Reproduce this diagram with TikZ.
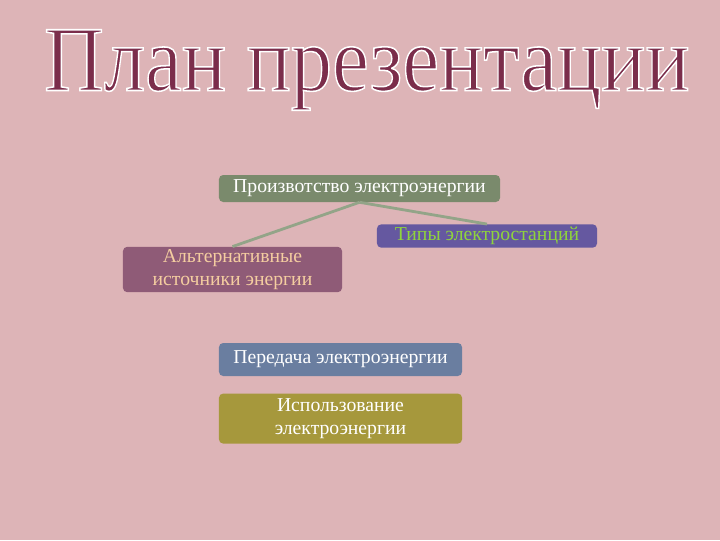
\documentclass[tikz,border=0pt]{standalone}
\usepackage{fontspec}
\setmainfont{Liberation Serif}
\usetikzlibrary{positioning}

\definecolor{bgpink}{HTML}{DDB4B7}
\definecolor{titlered}{HTML}{7B2D4B}
\definecolor{prodgreen}{HTML}{7A8A6C}
\definecolor{typesblue}{HTML}{6558A0}
\definecolor{typestext}{HTML}{8FD43C}
\definecolor{altmauve}{HTML}{8F5B77}
\definecolor{alttext}{HTML}{F4CDA0}
\definecolor{transblue}{HTML}{6A7EA0}
\definecolor{useolive}{HTML}{A6983C}
\definecolor{linkgreen}{HTML}{93A488}

% white outlined title text (fill, then stroke)
\newcommand{\outlinetext}[1]{%
    \special{pdf:literal direct 1 1 1 RG 1.1 w 2 Tr}#1\special{pdf:literal direct 0 Tr}}

\tikzset{
    box/.style={rounded corners=3pt, inner sep=2pt, align=center,
        font=\fontsize{14}{16}\selectfont},
    link/.style={line width=2pt, draw=linkgreen}
}

\begin{document}
\begin{tikzpicture}[x=0.025cm, y=-0.025cm]
        \fill[bgpink] (0,0) rectangle (720,540);

        \node[titlered, font=\fontsize{66}{66}\selectfont, xscale=0.89]
            (title) at (367,70){\outlinetext{План презентации}};

        \node[
            box,
            fill=prodgreen,
            text=white,
            minimum width=7.025cm,
            minimum height=0.675cm
        ](prod) at (359.5,188.5){Произвотство электроэнергии};

        \node[
            box,
            fill=typesblue,
            text=typestext,
            minimum width=5.5cm,
            minimum height=0.55cm
        ](types) at (487,236){Типы электростанций};

        \node[
            box,
            fill=altmauve,
            text=alttext,
            minimum width=5.475cm,
            minimum height=1.125cm
        ](alt) at (232.5,269.5){Альтернативные\\источники энергии};

        \node[
            box,
            fill=transblue,
            text=white,
            minimum width=6.075cm,
            minimum height=0.825cm
        ](trans) at (340.5,359.5){Передача электроэнергии};

        \node[
            box,
            fill=useolive,
            text=white,
            below=0.425cm of trans,
            minimum width=6.075cm,
            minimum height=1.25cm
        ](use){Использование\\электроэнергии};

        \draw[link](prod.south) -- (alt.north);
        \draw[link](prod.south) -- (types.north);
    \end{tikzpicture}
\end{document}
